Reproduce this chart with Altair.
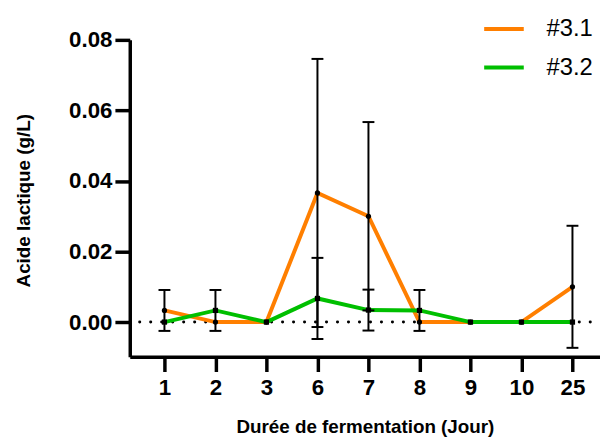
import altair as alt
import pandas as pd

days = ["1", "2", "3", "6", "7", "8", "9", "10", "25"]
series_names = ["#3.1", "#3.2"]
s31_mean = [0.0033, 0.0, 0.0, 0.0366, 0.0300, 0.0, 0.0, 0.0, 0.0100]
s31_sd = [0.0058, 0.0, 0.0, 0.0380, 0.0267, 0.0, 0.0, 0.0, 0.0173]
s32_mean = [0.0, 0.0033, 0.0, 0.0067, 0.0034, 0.0033, 0.0, 0.0, 0.0]
s32_sd = [0.0, 0.0058, 0.0, 0.0115, 0.0058, 0.0058, 0.0, 0.0, 0.0]
colors = ["#FF7F00", "#00BF00"]
marker_names = ["m1", "m2"]

rows = []
for name, mk, means, sds in [(series_names[0], marker_names[0], s31_mean, s31_sd),
                             (series_names[1], marker_names[1], s32_mean, s32_sd)]:
    for i, (d, m, s) in enumerate(zip(days, means, sds)):
        rows.append({"idx": i, "day": d, "series": name, "marker": mk, "mean": m, "sd": s,
                     "lo": m - s, "hi": m + s})
df = pd.DataFrame(rows)

FONT = "Liberation Sans"
label_expr = "[" + ",".join("'" + d + "'" for d in days) + "][datum.value]"

x_enc = alt.X("idx:Q", scale=alt.Scale(domain=[-0.68, 8.54], nice=False, zero=False),
              axis=alt.Axis(values=list(range(len(days))), labelExpr=label_expr,
                            title="Durée de fermentation (Jour)", grid=False,
                            titleX=237.5, titleY=77, titleBaseline="alphabetic",
                            labelPadding=5))
y_scale = alt.Scale(domain=[-0.0098, 0.08], nice=False, zero=False)
y_enc = alt.Y("mean:Q", scale=y_scale,
              axis=alt.Axis(values=[0, 0.02, 0.04, 0.06, 0.08], format=".2f",
                            title="Acide lactique (g/L)", grid=False,
                            titleX=-107, titleY=162, titleAngle=-90,
                            titleBaseline="middle", titleAlign="center",
                            labelPadding=3))
color_enc = alt.Color("series:N", scale=alt.Scale(domain=series_names, range=colors),
                      legend=alt.Legend(title=None, orient="none", legendX=356, legendY=-33,
                                        symbolType="stroke", symbolSize=1600,
                                        symbolStrokeWidth=4, labelFontSize=24,
                                        labelFont=FONT, labelOffset=21, rowPadding=5,
                                        padding=0, labelColor="#000000"))

base = alt.Chart(df)

zero_line = alt.Chart(pd.DataFrame({"z": [0.0]})).mark_rule(
    color="black", strokeWidth=3, strokeDash=[0.1, 11], strokeCap="round"
).encode(y=alt.Y("z:Q", scale=y_scale), x=alt.value(10), x2=alt.value(475))

lines = base.mark_line(strokeWidth=4).encode(
    x=x_enc, y=y_enc, color=color_enc,
    order=alt.Order("idx:Q")
)

err = base.transform_filter("datum.sd > 0")
err_rule = err.mark_rule(color="black", strokeWidth=2).encode(
    x="idx:Q", y=alt.Y("lo:Q"), y2="hi:Q")
cap_hi = err.mark_rule(color="black", strokeWidth=2, xOffset=-6, x2Offset=6).encode(
    x="idx:Q", x2="idx:Q", y="hi:Q")
cap_lo = err.mark_rule(color="black", strokeWidth=2, xOffset=-6, x2Offset=6).encode(
    x="idx:Q", x2="idx:Q", y="lo:Q")

pts = base.mark_point(filled=True, color="black", opacity=1, size=28).encode(
    x="idx:Q", y="mean:Q",
    shape=alt.Shape("marker:N", scale=alt.Scale(domain=marker_names, range=["circle", "square"]),
                    legend=None))

chart = alt.layer(zero_line, lines, err_rule, cap_hi, cap_lo, pts).properties(
    width=475, height=320,
    autosize=alt.AutoSizeParams(type="none"),
    padding={"left": 123, "top": 30, "right": 0, "bottom": 82},
).configure_axis(
    domainColor="black", domainWidth=3.5, tickColor="black", tickWidth=3.5, tickSize=15,
    labelFont=FONT, labelFontSize=22.5, labelFontWeight="bold", labelColor="black",
    titleFont=FONT, titleFontSize=19, titleFontWeight="bold", titleColor="black",
).configure_view(stroke=None).configure_legend(labelFont=FONT)

chart.save("out.html", embed_options={"renderer": "svg", "actions": False})
